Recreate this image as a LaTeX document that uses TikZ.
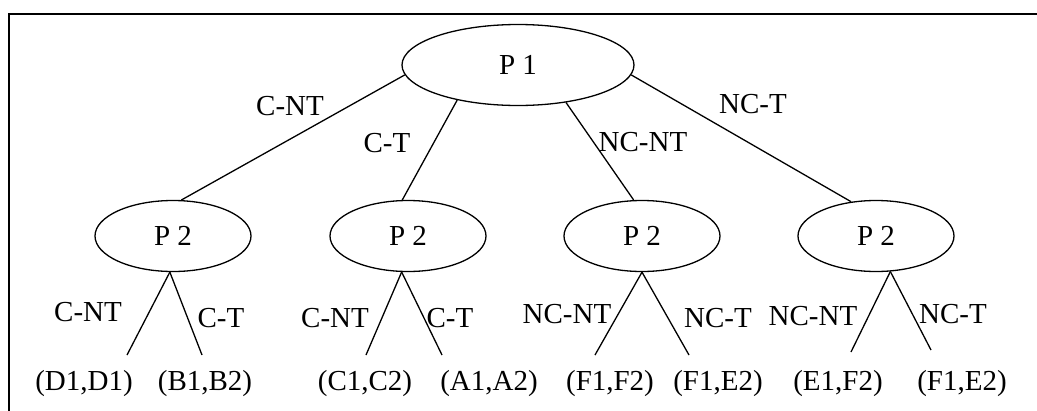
\documentclass[tikz,border=0pt]{standalone}
\usepackage{fontspec}
\setmainfont{Liberation Serif}
\usetikzlibrary{shapes.geometric}

\begin{document}
\begin{tikzpicture}[x=1pt,y=-1pt,
 txt/.style={font=\fontsize{29}{33}\selectfont,inner sep=0pt},
 pl/.style={draw,ellipse,line width=1.3pt,minimum width=156pt,minimum height=71pt,inner sep=0pt,txt},
 edge/.style={line width=1.3pt}]
\useasboundingbox (0,0) rectangle (1037,410);

% frame, cut at right and bottom
\draw[line width=2.8pt] (9,412) -- (9,14) -- (1040,14);

% players
\node[pl,minimum width=232pt,minimum height=81pt] (p1) at (518,65) {P 1};
\node[pl] (p2a) at (173,236) {P 2};
\node[pl] (p2b) at (408,236) {P 2};
\node[pl] (p2c) at (642,236) {P 2};
\node[pl] (p2d) at (876,236) {P 2};

% row-1 moves
\draw[edge] (p1.185) -- (p2a.77);
\draw[edge] (p1.210) -- (p2b.99);
\draw[edge] (p1.322) -- (p2c.103);
\draw[edge] (p1.355) -- (p2d.126);
\node[txt] (m1) at (290,106) {C-NT};
\node[txt] (m2) at (387,143) {C-T};
\node[txt] (m3) at (643,142) {NC-NT};
\node[txt] (m4) at (753,104) {NC-T};

% payoffs
\node[txt] (da) at (84,384) {(D1,D1)};
\node[txt] (db) at (205,384) {(B1,B2)};
\node[txt] (dc) at (365,384) {(C1,C2)};
\node[txt] (dd) at (489,384) {(A1,A2)};
\node[txt] (de) at (610,384) {(F1,F2)};
\node[txt] (df) at (718,384) {(F1,E2)};
\node[txt] (dg) at (838,384) {(E1,F2)};
\node[txt] (dh) at (962,384) {(F1,E2)};
\coordinate (ea) at (127,355);
\coordinate (eb) at (202,355);
\coordinate (ec) at (366,355);
\coordinate (ed) at (442,355);
\coordinate (ee) at (595,355);
\coordinate (ef) at (689,355);
\coordinate (eg) at (851,352);
\coordinate (eh) at (931,350);

% row-2 moves
\draw[edge] (p2a.265) -- (ea);
\draw[edge] (p2a.265) -- (eb);
\draw[edge] (p2b.260) -- (ec);
\draw[edge] (p2b.260) -- (ed);
\draw[edge] (p2c.south) -- (ee);
\draw[edge] (p2c.south) -- (ef);
\draw[edge] (p2d.292) -- (eg);
\draw[edge] (p2d.292) -- (eh);
\node[txt] (ma) at (88,312) {C-NT};
\node[txt] (mb) at (221,318) {C-T};
\node[txt] (mc) at (335,318) {C-NT};
\node[txt] (md) at (450,318) {C-T};
\node[txt] (me) at (567,314) {NC-NT};
\node[txt] (mf) at (718,318) {NC-T};
\node[txt] (mg) at (813,316) {NC-NT};
\node[txt] (mh) at (953,314) {NC-T};
\end{tikzpicture}
\end{document}
